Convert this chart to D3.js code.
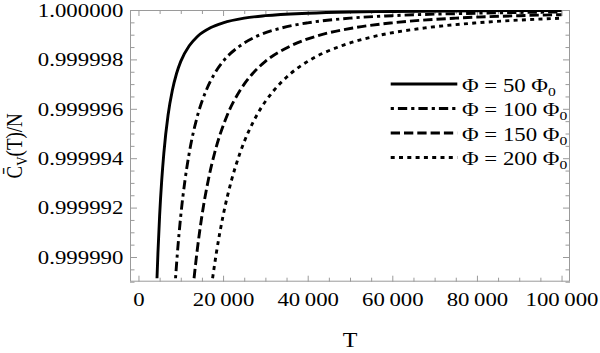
<!DOCTYPE html>
<html>
<head>
<meta charset="utf-8">
<script src="https://cdn.jsdelivr.net/npm/d3@7"></script>
<style>
  html, body { margin: 0; padding: 0; background: #fff; }
  svg { display: block; }
  text { font-family: "Liberation Serif", "Times New Roman", serif; fill: #000; }
</style>
</head>
<body>
<svg id="chart" width="600" height="353"></svg>
<script>
// ---------------- data ----------------
const phiValues = [50, 100, 150, 200];

const tPhi50  = [4380, 4600, 5000, 5500, 6000, 7000, 8000, 9000, 10000, 12000, 14000, 17000, 20000, 25000, 30000, 40000, 50000, 60000, 80000, 100000];
const cvPhi50 = [0.99998914, 0.99999015, 0.99999167, 0.99999311, 0.99999421, 0.99999575, 0.99999674, 0.99999743, 0.99999792, 0.99999855, 0.99999894, 0.99999928, 0.99999948, 0.99999967, 0.99999977, 0.99999987, 0.99999992, 0.99999994, 0.99999997, 0.99999998];

const tPhi100  = [8760, 9200, 10000, 11000, 12000, 14000, 16000, 18000, 20000, 24000, 28000, 34000, 40000, 50000, 60000, 80000, 100000];
const cvPhi100 = [0.99998914, 0.99999015, 0.99999167, 0.99999311, 0.99999421, 0.99999575, 0.99999674, 0.99999743, 0.99999792, 0.99999855, 0.99999894, 0.99999928, 0.99999948, 0.99999967, 0.99999977, 0.99999987, 0.99999992];

const tPhi150  = [13140, 13800, 15000, 16500, 18000, 21000, 24000, 27000, 30000, 36000, 42000, 51000, 60000, 75000, 90000, 100000];
const cvPhi150 = [0.99998914, 0.99999015, 0.99999167, 0.99999311, 0.99999421, 0.99999575, 0.99999674, 0.99999743, 0.99999792, 0.99999855, 0.99999894, 0.99999928, 0.99999948, 0.99999967, 0.99999977, 0.99999981];

const tPhi200  = [17520, 18400, 20000, 22000, 24000, 28000, 32000, 36000, 40000, 48000, 56000, 68000, 80000, 100000];
const cvPhi200 = [0.99998914, 0.99999015, 0.99999167, 0.99999311, 0.99999421, 0.99999575, 0.99999674, 0.99999743, 0.99999792, 0.99999855, 0.99999894, 0.99999928, 0.99999948, 0.99999967];

const xMajorTicks = [0, 20000, 40000, 60000, 80000, 100000];
const xTickLabels = ["0", "20\u2009000", "40\u2009000", "60\u2009000", "80\u2009000", "100\u2009000"];
const yMajorTicks = [0.99999, 0.999992, 0.999994, 0.999996, 0.999998, 1.0];
const yTickLabels = ["0.999990", "0.999992", "0.999994", "0.999996", "0.999998", "1.000000"];

const xTitle = "T";
const legendPrefix = "\u03A6 = ";
const legendUnit = "\u03A6";
const legendSub = "0";

// ---------------- styles ----------------
const dashStyles = [null, "3.2,4,9.3,4", "9.3,4", "4,4.3"];
const SX = 1.2;           // horizontal glyph stretch of the reference
const FS = 19;

// ---------------- layout ----------------
const W = 600, H = 353;
const margin = {top: 10, right: 30, bottom: 71.3, left: 130};
const svg = d3.select("#chart");

const x = d3.scaleLinear().domain([-2000, 102000]).range([margin.left, W - margin.right]);
const y = d3.scaleLinear().domain([0.999989, 1.0]).range([H - margin.bottom, margin.top]);

const x0 = x.range()[0], x1 = x.range()[1], y0 = y.range()[0], y1 = y.range()[1];

const xMinor = d3.range(0, 100001, 5000).filter(v => !xMajorTicks.includes(v));
const yMinor = d3.range(0, 23).map(i => 0.999989 + i * 5e-7).filter(v => !yMajorTicks.some(m => Math.abs(m - v) < 1e-9));

const tickColor = "#9a9a9a";

function styleAxis(g) {
  g.select(".domain").remove();
  g.selectAll(".tick line").attr("stroke", tickColor).attr("stroke-width", 1);
}

// inward ticks on all four sides
svg.append("g").attr("transform", `translate(0,${y0})`)
  .call(d3.axisBottom(x).tickValues(xMajorTicks).tickSize(-6).tickFormat(""))
  .call(styleAxis);
svg.append("g").attr("transform", `translate(0,${y0})`)
  .call(d3.axisBottom(x).tickValues(xMinor).tickSize(-4).tickFormat(""))
  .call(styleAxis);
svg.append("g").attr("transform", `translate(0,${y1})`)
  .call(d3.axisTop(x).tickValues(xMajorTicks).tickSize(-6).tickFormat(""))
  .call(styleAxis);
svg.append("g").attr("transform", `translate(0,${y1})`)
  .call(d3.axisTop(x).tickValues(xMinor).tickSize(-4).tickFormat(""))
  .call(styleAxis);
svg.append("g").attr("transform", `translate(${x0},0)`)
  .call(d3.axisLeft(y).tickValues(yMajorTicks).tickSize(-7).tickFormat(""))
  .call(styleAxis);
svg.append("g").attr("transform", `translate(${x0},0)`)
  .call(d3.axisLeft(y).tickValues(yMinor).tickSize(-4.5).tickFormat(""))
  .call(styleAxis);
svg.append("g").attr("transform", `translate(${x1},0)`)
  .call(d3.axisRight(y).tickValues(yMajorTicks).tickSize(-7).tickFormat(""))
  .call(styleAxis);
svg.append("g").attr("transform", `translate(${x1},0)`)
  .call(d3.axisRight(y).tickValues(yMinor).tickSize(-4.5).tickFormat(""))
  .call(styleAxis);

// frame
svg.append("rect")
  .attr("x", x0 + 0.5).attr("y", y1 + 0.5)
  .attr("width", x1 - x0 - 1).attr("height", y0 - y1 - 1)
  .attr("fill", "none").attr("stroke", tickColor).attr("stroke-width", 1);

// tick labels
const xLab = svg.append("g").attr("transform", `translate(0,${y0})`)
  .call(d3.axisBottom(x).tickValues(xMajorTicks).tickSize(0)
    .tickFormat((d, i) => xTickLabels[i]));
xLab.select(".domain").remove();
xLab.selectAll("text")
  .attr("y", 306.5 - y0).attr("dy", 0)
  .attr("transform", `scale(${SX},1)`)
  .style("font-size", FS + "px").style("font-family", '"Liberation Serif", serif').attr("fill", "#000");

const yLab = svg.append("g").attr("transform", `translate(${x0},0)`)
  .call(d3.axisLeft(y).tickValues(yMajorTicks).tickSize(0)
    .tickFormat((d, i) => yTickLabels[i]));
yLab.select(".domain").remove();
yLab.selectAll("text")
  .attr("x", -6.7 / SX).attr("dy", "0.33em")
  .attr("transform", `scale(${SX},1)`)
  .style("font-size", FS + "px").style("font-family", '"Liberation Serif", serif').attr("fill", "#000");

// axis titles
svg.append("text")
  .attr("transform", `translate(${(x0 + x1) / 2},346.5) scale(${SX},1)`)
  .attr("text-anchor", "middle")
  .style("font-size", "20px")
  .text(xTitle);

const yt = svg.append("text")
  .attr("transform", `translate(21.7,${(y0 + y1) / 2}) scale(${SX},1) rotate(-90)`)
  .attr("text-anchor", "middle")
  .style("font-size", FS + "px");
yt.append("tspan").text("C\u0304");
yt.append("tspan").attr("dy", 4).style("font-size", "13px").text("V");
yt.append("tspan").attr("dy", -4).text("(T)/N");

// curves
svg.append("clipPath").attr("id", "plotclip")
  .append("rect").attr("x", x0).attr("y", y1).attr("width", x1 - x0).attr("height", y0 - y1);

const seriesData = [
  d3.zip(tPhi50, cvPhi50),
  d3.zip(tPhi100, cvPhi100),
  d3.zip(tPhi150, cvPhi150),
  d3.zip(tPhi200, cvPhi200)
];

const line = d3.line()
  .x(d => x(d[0]))
  .y(d => y(d[1]))
  .curve(d3.curveMonotoneX);

svg.append("g").attr("clip-path", "url(#plotclip)")
  .selectAll("path")
  .data(seriesData)
  .join("path")
  .attr("d", line)
  .attr("fill", "none")
  .attr("stroke", "#000")
  .attr("stroke-width", 2.9)
  .attr("stroke-dasharray", (d, i) => dashStyles[i]);

// legend
const legend = svg.append("g");
const rowY = [84, 108.5, 133, 157.5];
phiValues.forEach((phi, i) => {
  legend.append("line")
    .attr("x1", 390.7).attr("x2", 457.3)
    .attr("y1", rowY[i]).attr("y2", rowY[i])
    .attr("stroke", "#000").attr("stroke-width", 2.9)
    .attr("stroke-dasharray", dashStyles[i]);
  const t = legend.append("text")
    .attr("transform", `translate(462,${rowY[i] + 7.5}) scale(${SX},1)`)
    .style("font-size", FS + "px");
  t.append("tspan").text(legendPrefix + phi + " " + legendUnit);
  t.append("tspan").attr("dy", 4).style("font-size", "13px").text(legendSub);
});
</script>
</body>
</html>
